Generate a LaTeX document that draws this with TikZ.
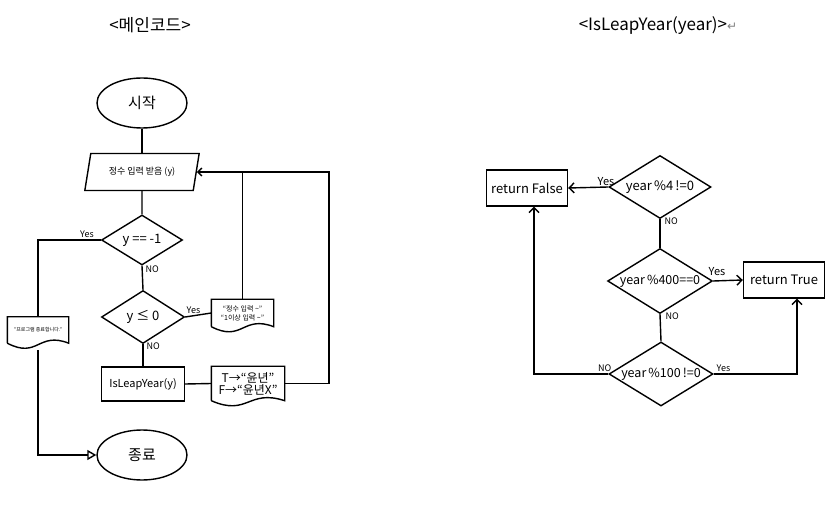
\documentclass[tikz,border=0pt]{standalone}
\usepackage{fontspec}
\setmainfont{Noto Sans CJK KR}
\newfontfamily\dejavu{DejaVu Sans}
\usetikzlibrary{shapes.geometric,arrows.meta,calc}
\newcommand\docoutline[1]{%
  \draw (#1.south west) -- (#1.north west) -- (#1.north east) -- (#1.south east)
    .. controls ($(#1.south east)!0.5!(#1.south west)+(0,-12)$) and ($(#1.south east)!0.5!(#1.south west)+(0,16)$) .. (#1.south west);}
\begin{document}
\begin{tikzpicture}[x=1pt,y=-1pt,line width=1.4pt,
  fs/.style={font=\fontsize{#1}{#1}\selectfont},
  term/.style={ellipse,draw,minimum width=90pt,minimum height=50pt,inner sep=0pt,fs=15},
  dec/.style={diamond,draw,aspect=2,inner sep=0pt},
  proc/.style={rectangle,draw,inner sep=0pt},
  docnode/.style={rectangle,inner sep=0pt,align=center},
  lbl/.style={fs=9,inner sep=0pt},
  arr/.style={-{Straight Barb[length=5pt,width=10pt]}},
]
\useasboundingbox (0,0) rectangle (835,510);

% titles
\node[fs=17] (t1) at (150,25) {<메인코드>};
\node[fs=17] (t2) at (658,26) {<IsLeapYear(year)>{\dejavu\color{gray}\fontsize{12}{12}\selectfont↵}};

% ---------- main code ----------
\node[term] (start) at (142,103) {시작};
\node[trapezium,draw,trapezium left angle=68,trapezium right angle=112,
      trapezium stretches=true,minimum width=115pt,minimum height=37pt,inner sep=0pt,fs=9]
      (inp) at (142,172) {정수 입력 받음 (y)};
\node[dec,minimum width=81pt,minimum height=50pt,fs=13] (d1) at (142,240) {y == -1};
\node[dec,minimum width=83pt,minimum height=53pt,fs=13] (d2) at (143,317) {y ≤ 0};
\node[proc,minimum width=83pt,minimum height=34pt,fs=11] (isl) at (143,384) {IsLeapYear(y)};
\node[term] (endn) at (142,455) {종료};

\node[docnode,minimum width=60pt,minimum height=25pt,fs=5] (pend) at (38,330) {“프로그램 종료합니다.”};
\docoutline{pend}
\node[docnode,minimum width=61pt,minimum height=26pt,fs=7] (warn) at (242.5,313) {“정수 입력 \textasciitilde”\\[2pt]“1이상 입력 \textasciitilde”};
\docoutline{warn}
\node[docnode,minimum width=72pt,minimum height=33pt,fs=12] (res) at (248,383.5) {T→“윤년”\\F→“윤년X”};
\docoutline{res}

\draw (start) -- (inp);
\draw (inp) -- (d1);
\draw (d1.west) -| (pend.north);
\node[lbl,anchor=south] (y1) at (87,238) {Yes};
\draw[-{Triangle[open,length=9pt,width=10pt]}] ($(pend.south)+(0,7)$) |- (endn.west);
\draw (d1.south) -- (d2.north);
\node[lbl,anchor=north west] (n1) at (145,265) {NO};
\draw (d2.east) -- (warn.west);
\node[lbl,anchor=south west] (y2) at (186,314) {Yes};
\draw (d2.south) -- (isl.north);
\node[lbl,anchor=north west] (n2) at (146,342) {NO};
\draw (isl.east) -- (res.west);
\draw (warn.north) -- (warn.north |- inp.east);
\coordinate (loop) at (329,383.5);
\draw[-{Straight Barb[length=4pt,width=8pt]}] (res.east) -- (loop) |- (inp.east);

% ---------- IsLeapYear ----------
\node[dec,minimum width=102pt,minimum height=63pt,fs=13] (r1) at (660,187) {year\,\%4\,!=0};
\node[proc,minimum width=81pt,minimum height=36pt,fs=13] (rf) at (527,188) {return False};
\node[dec,minimum width=104pt,minimum height=65pt,fs=12.5] (r2) at (660,281) {year\,\%400==0};
\node[proc,minimum width=81pt,minimum height=36pt,fs=13] (rt) at (784,280) {return True};
\node[dec,minimum width=104pt,minimum height=64pt,fs=12.5] (r3) at (661,374) {year\,\%100\,!=0};

\draw[arr] (r1.west) -- (rf.east);
\node[lbl,anchor=south east,fs=11] (y3) at (615,186) {Yes};
\draw (r1.south) -- (r2.north);
\node[lbl,anchor=north west] (n3) at (664,217) {NO};
\draw[arr] (r2.east) -- (rt.west);
\node[lbl,anchor=south west,fs=11] (y4) at (708,276) {Yes};
\draw (r2.south) -- (r3.north);
\node[lbl,anchor=north west] (n4) at (665,312) {NO};
\draw[arr] (r3.west) -| ($(rf.south)+(7,0)$);
\node[lbl,anchor=south east] (n5) at (612,372) {NO};
\draw[arr] (r3.east) -| ($(rt.south)+(13,0)$);
\node[lbl,anchor=south west] (y5) at (716,372) {Yes};
\end{tikzpicture}
\end{document}
